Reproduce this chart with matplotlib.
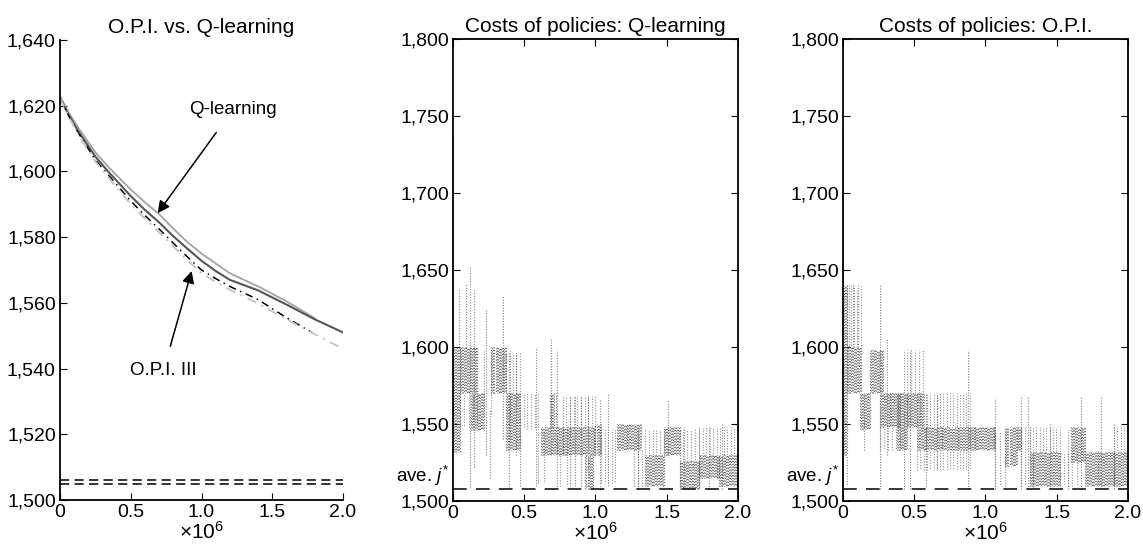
import numpy as np
import matplotlib
matplotlib.use('Agg')
import matplotlib.pyplot as plt
from matplotlib.ticker import FuncFormatter

plt.rcParams['font.family'] = ['Liberation Sans', 'DejaVu Sans']
plt.rcParams['mathtext.fontset'] = 'custom'
plt.rcParams['mathtext.rm'] = 'Liberation Sans'
plt.rcParams['mathtext.it'] = 'Liberation Sans:italic'

# ---- left panel: learning curves (x in units of 1e6) ----
q_x = [0, 0.06, 0.125, 0.25, 0.35, 0.5, 0.6, 0.7, 0.8, 0.9, 1.0, 1.1, 1.2, 1.4, 1.6, 1.8]
q_y = [1622.8, 1618, 1613.5, 1605.8, 1601, 1594.5, 1590.6, 1587, 1582.6, 1578.5, 1575, 1572, 1569, 1565, 1560.5, 1555.3]

dark_x = [0, 0.06, 0.125, 0.25, 0.35, 0.5, 0.6, 0.7, 0.8, 0.9, 1.0, 1.1, 1.2, 1.4, 1.6, 1.8, 2.0]
dark_y = [1622.5, 1617.3, 1612.5, 1604.5, 1599.5, 1592.5, 1588.3, 1584.5, 1580.3, 1576.5, 1572.8, 1569.7, 1567, 1563.8, 1559.5, 1555, 1551]

opi3_x = [0, 0.06, 0.125, 0.25, 0.35, 0.5, 0.6, 0.7, 0.8, 0.9, 1.0, 1.1, 1.2, 1.4, 1.6, 1.78]
opi3_y = [1622.5, 1617, 1612, 1603.5, 1598.5, 1591, 1586.6, 1582.5, 1578.2, 1574, 1570, 1567.4, 1565, 1561, 1555.5, 1551]

light_dd_x = [0, 0.06, 0.125, 0.25, 0.35, 0.5, 0.6, 0.7, 0.8, 0.9, 1.0, 1.1, 1.2, 1.4, 1.6, 1.8, 2.0]
light_dd_y = [1622.5, 1616.8, 1611.5, 1603, 1597.8, 1590, 1585.6, 1581.5, 1577.2, 1573, 1569, 1566.4, 1564, 1559.8, 1555, 1550.5, 1546]

opt_levels = [1506.2, 1504.8]
ave_jstar = 1507.5

# ---- middle panel: policy costs, Q-learning ----
q_dense_x0 = [0.00, 0.05, 0.13, 0.27, 0.37, 0.62, 0.68, 0.77, 0.93, 1.00, 1.15, 1.35, 1.48, 1.59, 1.73, 1.87]
q_dense_x1 = [0.05, 0.17, 0.22, 0.37, 0.47, 0.77, 0.72, 1.00, 0.98, 1.04, 1.32, 1.48, 1.59, 1.73, 1.87, 2.00]
q_dense_lo = [1532, 1570, 1546, 1570, 1533, 1530, 1548, 1530, 1508, 1530, 1533, 1510, 1530, 1508, 1515, 1510]
q_dense_hi = [1600, 1600, 1570, 1600, 1570, 1548, 1570, 1548, 1530, 1550, 1550, 1530, 1548, 1526, 1530, 1530]

q_sparse_x0 = [0.22, 0.47, 0.60, 0.75, 1.04, 1.27, 1.35, 0.77, 1.59, 1.73, 0.05, 0.37]
q_sparse_x1 = [0.27, 0.60, 0.64, 0.80, 1.14, 1.33, 1.48, 1.00, 1.73, 2.00, 0.17, 0.47]
q_sparse_lo = [1555, 1547, 1512, 1510, 1512, 1510, 1530, 1548, 1526, 1530, 1548, 1570]
q_sparse_hi = [1598, 1570, 1545, 1532, 1547, 1533, 1546, 1568, 1547, 1548, 1570, 1596]

q_stroke_x = [0.003, 0.04, 0.09, 0.12, 0.15, 0.23, 0.26, 0.35, 0.39, 0.40, 0.44, 0.47, 0.58, 0.69,
              0.73, 0.82, 0.86, 0.90, 0.95, 1.03, 1.09, 1.30, 1.51, 1.62, 1.80, 1.89]
q_stroke_lo = [1600, 1600, 1600, 1509, 1522, 1530, 1515, 1540, 1509, 1540, 1530, 1510, 1510, 1530,
               1508, 1510, 1510, 1510, 1510, 1508, 1510, 1508, 1530, 1508, 1508, 1508]
q_stroke_hi = [1735, 1638, 1641, 1652, 1637, 1624, 1560, 1633, 1570, 1598, 1597, 1547, 1600, 1605,
               1598, 1568, 1568, 1568, 1568, 1566, 1570, 1548, 1566, 1548, 1548, 1550]

# ---- right panel: policy costs, O.P.I. ----
o_dense_x0 = [0.00, 0.03, 0.12, 0.19, 0.26, 0.38, 0.45, 0.52, 0.89, 1.14, 1.22, 1.31, 1.60, 1.70, 1.90]
o_dense_x1 = [0.03, 0.13, 0.19, 0.28, 0.40, 0.45, 0.56, 0.89, 1.07, 1.22, 1.25, 1.52, 1.70, 1.90, 2.00]
o_dense_lo = [1530, 1570, 1547, 1570, 1548, 1533, 1548, 1533, 1533, 1523, 1533, 1510, 1525, 1510, 1510]
o_dense_hi = [1640, 1600, 1570, 1598, 1570, 1570, 1570, 1548, 1548, 1548, 1548, 1532, 1548, 1532, 1532]

o_sparse_x0 = [0.03, 0.00, 0.26, 0.45, 0.52, 0.52, 1.07, 1.25, 1.52, 1.31, 1.90]
o_sparse_x1 = [0.13, 0.03, 0.40, 0.56, 0.89, 0.89, 1.14, 1.31, 1.64, 1.52, 2.00]
o_sparse_lo = [1600, 1510, 1533, 1570, 1548, 1520, 1510, 1510, 1510, 1532, 1532]
o_sparse_hi = [1640, 1530, 1548, 1598, 1570, 1533, 1545, 1548, 1532, 1548, 1548]

o_stroke_x = [0.003, 0.04, 0.07, 0.10, 0.15, 0.26, 0.31, 0.43, 0.47, 0.58, 0.66, 0.88, 1.07, 1.25,
              1.30, 1.45, 1.58, 1.67, 1.81, 1.90]
o_stroke_lo = [1600, 1600, 1600, 1600, 1533, 1508, 1530, 1508, 1508, 1510, 1520, 1508, 1508, 1508,
               1508, 1508, 1508, 1508, 1508, 1508]
o_stroke_hi = [1740, 1640, 1640, 1637, 1570, 1641, 1605, 1598, 1598, 1570, 1570, 1598, 1567, 1568,
               1568, 1550, 1546, 1568, 1568, 1550]

x_ticks = [0, 0.5, 1.0, 1.5, 2.0]
x_ticklabels = ['0', '0.5', '1.0', '1.5', '2.0']

DOT = '#585858'
TICK_FS = 14
TITLE_FS = 15
PERIOD = 2.4
comma = FuncFormatter(lambda v, p: '{:,.0f}'.format(v))


def stipple(ax, x0, x1, lo, hi, step, lw, alpha):
    # dotted vertical strokes across a band; dot phase scrambled stroke to stroke
    n = max(int(round((x1 - x0) / step)), 2)
    xs = np.linspace(x0, x1, n)
    phase = [((i * 7919 + i * i * 104729) % 97) / 97.0 for i in range(n)]
    styles = [(p * PERIOD, (0.9, PERIOD - 0.9)) for p in phase]
    ax.vlines(xs, lo, hi, colors=DOT, linewidths=lw, linestyles=styles, alpha=alpha)


def cost_panel(ax, title, dense, sparse, strokes):
    for x0, x1, lo, hi in zip(*dense):
        stipple(ax, x0, x1, lo, hi, 0.0065, 0.85, 0.9)
    for x0, x1, lo, hi in zip(*sparse):
        stipple(ax, x0, x1, lo, hi, 0.022, 0.8, 0.7)
    ax.vlines(strokes[0], strokes[1], strokes[2], colors=DOT, linewidths=0.8,
              linestyles=[(0, (0.9, PERIOD - 0.9))], alpha=0.8)
    ax.plot([0, 2.0], [ave_jstar, ave_jstar], color='black', lw=1.1, dashes=(9, 6))
    ax.text(-0.03, ave_jstar + 1, 'ave. $j^{*}$', ha='right', va='bottom', fontsize=13.5)
    ax.set_xlim(0, 2.0)
    ax.set_ylim(1500, 1800)
    ax.set_yticks([1500, 1550, 1600, 1650, 1700, 1750, 1800])
    ax.yaxis.set_major_formatter(comma)
    ax.set_xticks(x_ticks)
    ax.set_xticklabels(x_ticklabels)
    ax.tick_params(direction='in', top=True, right=True, length=5, labelsize=TICK_FS, pad=3)
    ax.set_title(title, fontsize=TITLE_FS, pad=5)
    ax.set_xlabel('×10$^{6}$', fontsize=15, labelpad=0)


fig = plt.figure(figsize=(11.43, 5.55), dpi=100)
ax1 = fig.add_axes([0.0525, 0.099, 0.2476, 0.829])
ax2 = fig.add_axes([0.3963, 0.0973, 0.2493, 0.8324])
ax3 = fig.add_axes([0.7375, 0.0973, 0.2493, 0.8324])

# left panel
ax1.plot(q_x, q_y, color='#a8a8a8', lw=1.4)
ax1.plot(dark_x, dark_y, color='#555555', lw=1.5)
ax1.plot(opi3_x, opi3_y, color='black', lw=1.1, dashes=(5, 3, 1, 3))
ax1.plot(light_dd_x, light_dd_y, color='#c4c4c4', lw=1.4, dashes=(5, 3, 1, 3))
for lvl in opt_levels:
    ax1.plot([0, 2.0], [lvl, lvl], color='black', lw=1.1, dashes=(6, 3.5))
arrow = dict(arrowstyle='-|>', color='black', lw=1.1, mutation_scale=18, shrinkA=10, shrinkB=0)
ax1.annotate('Q-learning', xy=(0.69, 1587.3), xytext=(1.22, 1618.7), ha='center', va='center',
             fontsize=13.5, arrowprops=arrow)
ax1.annotate('O.P.I. III', xy=(0.93, 1569.7), xytext=(0.73, 1539.3), ha='center', va='center',
             fontsize=13.5, arrowprops=arrow)
ax1.set_xlim(0, 2.0)
ax1.set_ylim(1500, 1640)
ax1.set_yticks([1500, 1520, 1540, 1560, 1580, 1600, 1620, 1640])
ax1.yaxis.set_major_formatter(comma)
ax1.set_xticks(x_ticks)
ax1.set_xticklabels(x_ticklabels)
ax1.spines['top'].set_visible(False)
ax1.spines['right'].set_visible(False)
ax1.tick_params(direction='in', length=5, labelsize=TICK_FS, pad=3)
ax1.set_title('O.P.I. vs. Q-learning', fontsize=TITLE_FS, pad=5)
ax1.set_xlabel('×10$^{6}$', fontsize=15, labelpad=0)

cost_panel(ax2, 'Costs of policies: Q-learning',
           (q_dense_x0, q_dense_x1, q_dense_lo, q_dense_hi),
           (q_sparse_x0, q_sparse_x1, q_sparse_lo, q_sparse_hi),
           (q_stroke_x, q_stroke_lo, q_stroke_hi))
cost_panel(ax3, 'Costs of policies: O.P.I.',
           (o_dense_x0, o_dense_x1, o_dense_lo, o_dense_hi),
           (o_sparse_x0, o_sparse_x1, o_sparse_lo, o_sparse_hi),
           (o_stroke_x, o_stroke_lo, o_stroke_hi))

for ax in (ax1, ax2, ax3):
    for s in ax.spines.values():
        s.set_linewidth(1.3)

fig.savefig('out.png', dpi=100)
